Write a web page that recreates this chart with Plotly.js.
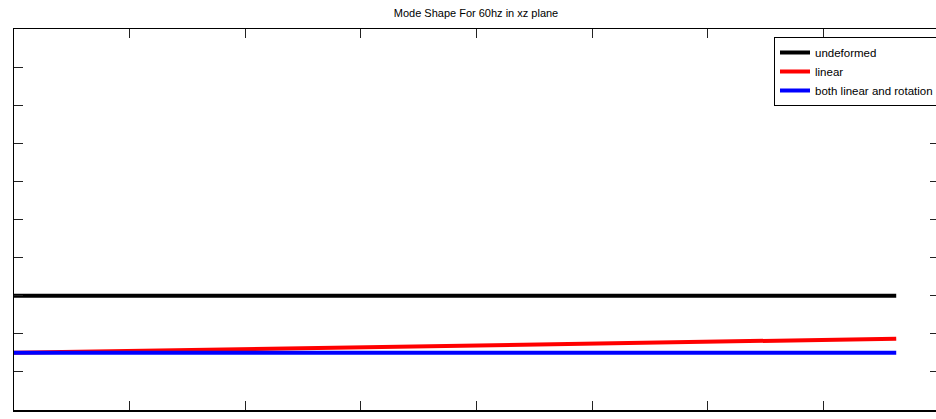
<!DOCTYPE html>
<html>
<head>
<meta charset="utf-8">
<script src="https://cdn.plot.ly/plotly-3.0.1.min.js"></script>
<style>
html, body { margin: 0; padding: 0; overflow: hidden; background: #fff; }
#chart { width: 940px; height: 419px; }
</style>
</head>
<body>
<div id="chart"></div>
<script>
// Data
var seriesNames = ["undeformed", "linear", "both linear and rotation"];
var xPos = [0, 7.63];
var undeformed = [3.0, 3.0];
var linearY = [1.5, 1.87];
var bothY = [1.5, 1.5];
var colors = ["#000000", "#ff0000", "#0000ff"];
var xTicks = [0, 1, 2, 3, 4, 5, 6, 7, 8];
var yTicks = [0, 1, 2, 3, 4, 5, 6, 7, 8, 9, 10];

var ys = [undeformed, linearY, bothY];
var traces = ys.map(function (y, i) {
  return {
    x: xPos, y: y, type: "scatter", mode: "lines", name: seriesNames[i],
    line: { color: colors[i], width: 4 }
  };
});

var axisCommon = {
  showgrid: false, zeroline: false, showline: true, linecolor: "#000", linewidth: 1.5,
  mirror: "ticks", ticks: "inside", ticklen: 9, tickwidth: 1, tickcolor: "#222",
  showticklabels: false, tickmode: "array"
};

var layout = {
  width: 940, height: 419,
  margin: { l: 14, r: 1, t: 29, b: 9, pad: 0 },
  paper_bgcolor: "#fff", plot_bgcolor: "#fff",
  font: { family: "Liberation Sans, Arial, sans-serif", size: 11, color: "#000" },
  title: {
    text: "Mode Shape For 60hz in xz plane",
    x: 476 / 940, xanchor: "center", xref: "container",
    y: 1 - 13 / 419, yanchor: "middle", yref: "container",
    font: { family: "Liberation Sans, Arial, sans-serif", size: 11, color: "#000" }
  },
  xaxis: Object.assign({}, axisCommon, { range: [0, 8], tickvals: xTicks }),
  yaxis: Object.assign({}, axisCommon, { range: [0, 10], tickvals: yTicks }),
  showlegend: true,
  legend: {
    x: (939 - 14) / 925, xanchor: "right", y: (410 - 37) / 381, yanchor: "top",
    bgcolor: "#fff", bordercolor: "#000", borderwidth: 1,
    font: { family: "Liberation Sans, Arial, sans-serif", size: 11.5, color: "#000" },
    tracegroupgap: 0, itemwidth: 30
  }
};

Plotly.newPlot("chart", traces, layout, { staticPlot: true, displayModeBar: false });
</script>
</body>
</html>
